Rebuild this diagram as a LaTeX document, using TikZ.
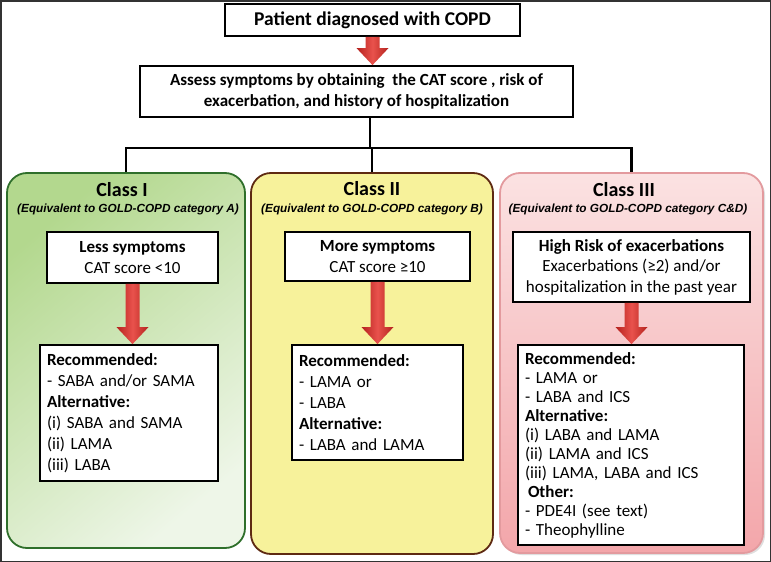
\documentclass[tikz,border=0pt]{standalone}
\usepackage{fontspec}
\setmainfont{Carlito}
\newfontfamily\subfont{Liberation Sans}
\usetikzlibrary{calc,shadows}
\definecolor{greentop}{HTML}{B3D88E}
\definecolor{greenbot}{HTML}{EEF6E8}
\definecolor{greenline}{HTML}{2F6F2B}
\definecolor{yellowfill}{HTML}{F7F29B}
\definecolor{yellowline}{HTML}{5E2A12}
\definecolor{pinktop}{HTML}{FBE2E2}
\definecolor{pinkbot}{HTML}{F3A6AA}
\definecolor{pinkline}{HTML}{E39A9E}
\definecolor{arrlight}{HTML}{E9524C}
\definecolor{arrdark}{HTML}{B4221E}
\begin{document}
\begin{tikzpicture}
  [x=1pt,y=-1pt,
   every node/.style={font=\fontsize{17}{21}\selectfont,inner sep=0pt},
   box/.style={draw=black,line width=1.8pt,fill=white,align=center},
   listbox/.style={draw=black,line width=1.8pt,fill=white,align=left,inner xsep=7pt},
   classbox/.style={line width=1.8pt,rounded corners=20pt},
   classtitle/.style={font=\fontsize{20}{22}\selectfont\bfseries},
   classsub/.style={font=\subfont\fontsize{11.8}{14}\selectfont\bfseries\itshape},
   conn/.style={draw=black,line width=2.4pt},
   redarrow/.style={left color=arrdark,right color=arrdark,middle color=arrlight}]
  \useasboundingbox (0,0) rectangle (771,562);
  \draw[black!80,line width=1.5pt] (0.75,0.75) rectangle (770.25,561.25);

  \node[box,minimum width=295,minimum height=32,
    font=\fontsize{19.5}{22}\selectfont\bfseries] (top) at (372.5,20) {Patient diagnosed with COPD};
  \node[box,minimum width=433,minimum height=51,
    font=\fontsize{17}{21}\selectfont\bfseries] (assess) at (356.5,91.5)
    {Assess symptoms by obtaining\ \ the CAT score , risk of\\exacerbation, and history of hospitalization};

  % the three classes
  \node[classbox,draw=greenline,top color=greentop,bottom color=greenbot,shading angle=40,
    minimum width=238,minimum height=375] (clI) at (126,360.5) {};
  \node[classbox,draw=yellowline,fill=yellowfill,
    minimum width=242,minimum height=381] (clII) at (372,363.5) {};
  \node[classbox,draw=pinkline,top color=pinktop,bottom color=pinkbot,
    drop shadow={opacity=0.25,shadow xshift=2pt,shadow yshift=-2pt},
    minimum width=263,minimum height=380] (clIII) at (631.5,363) {};

  \node[classtitle] (tI) at (122,190) {Class I};
  \node[classtitle] (tII) at (372,189) {Class II};
  \node[classtitle] (tIII) at (624,190) {Class III};
  \node[classsub] (sI) at (128,209) {(Equivalent to GOLD-COPD category A)};
  \node[classsub] (sII) at (372,209) {(Equivalent to GOLD-COPD category B)};
  \node[classsub] (sIII) at (628,209) {(Equivalent to GOLD-COPD category C\&D)};

  \node[box,minimum width=171,minimum height=51] (symI) at (132.5,257.5)
    {\textbf{Less symptoms}\\CAT score <10};
  \node[box,minimum width=185,minimum height=49] (symII) at (377.5,256.5)
    {\textbf{More symptoms}\\CAT score ≥10};
  \node[box,minimum width=237,minimum height=70,font=\fontsize{17}{20.5}\selectfont] (symIII) at (631.5,267)
    {\textbf{High Risk of exacerbations}\\Exacerbations (≥2) and/or\\hospitalization in the past year};

  \node[listbox,text width=164,minimum height=136] (recI) at (129,413)
    {\textbf{Recommended:}\\- SABA and/or SAMA\\\textbf{Alternative:}\\(i) SABA and SAMA\\(ii) LAMA\\(iii) LABA};
  \node[listbox,text width=157,minimum height=115] (recII) at (377.5,402.5)
    {\textbf{Recommended:}\\- LAMA or\\- LABA\\\textbf{Alternative:}\\- LABA and LAMA};
  \node[listbox,text width=212,minimum height=200,font=\fontsize{17}{19}\selectfont] (recIII) at (631,445)
    {\textbf{Recommended:}\\- LAMA or\\- LABA and ICS\\\textbf{Alternative:}\\(i) LABA and LAMA\\(ii) LAMA and ICS\\(iii) LAMA, LABA and ICS\\\hspace*{3pt}\textbf{Other:}\\- PDE4I (see text)\\- Theophylline};

  % tree lines
  \coordinate (split) at (370,148);
  \draw[conn] (assess.south -| split) -- (split);
  \foreach \c in {clI,clII,clIII}
    \draw[conn] (split) -| (\c.north);

  % red block arrows
  \foreach \from/\to in {top/assess,symI/recI,symII/recII,symIII/recIII}
    \path let \p1=(\from.south), \p2=(\to.north) in
      [redarrow] (\x1-7pt,\y1) -- (\x1+7pt,\y1) -- (\x1+7pt,\y2+17pt) -- (\x1+16pt,\y2+17pt)
      -- (\x1,\y2) -- (\x1-16pt,\y2+17pt) -- (\x1-7pt,\y2+17pt) -- cycle;

\end{tikzpicture}
\end{document}
